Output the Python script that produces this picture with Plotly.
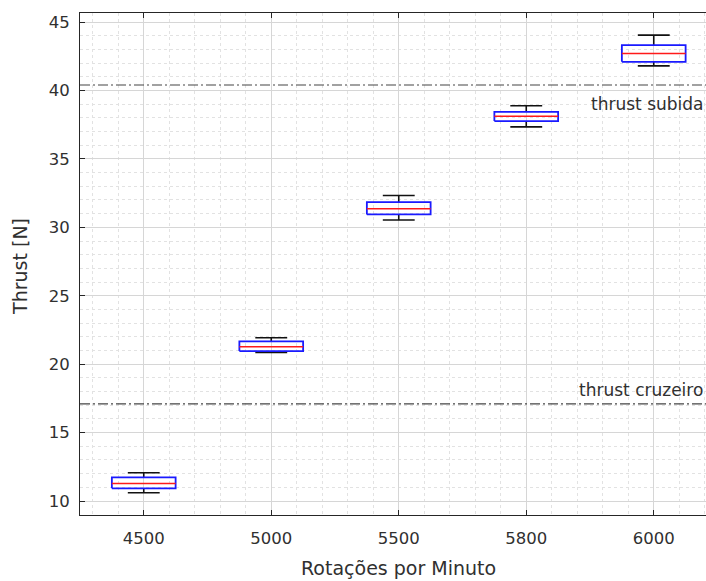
import plotly.graph_objects as go

# Thrust measurements per rotation speed (box-plot statistics, N)
rpm_labels = ["4500", "5000", "5500", "5800", "6000"]
whisker_low = [10.61, 20.86, 30.53, 37.34, 41.80]
quartile_1 = [10.93, 20.96, 30.94, 37.76, 42.09]
medians = [11.29, 21.27, 31.35, 38.12, 42.70]
quartile_3 = [11.73, 21.66, 31.84, 38.44, 43.31]
whisker_high = [12.07, 21.93, 32.33, 38.88, 44.04]

# Reference thrust levels
ref_names = ["thrust subida", "thrust cruzeiro"]
ref_values = [40.4, 17.1]

positions = list(range(1, len(rpm_labels) + 1))
box_half = 0.25
cap_half = 0.125

FONT = "DejaVu Sans"
TEXT = "#303030"

wx, wy = [], []      # whisker stems and caps
bx, by = [], []      # box outlines
mx, my = [], []      # median lines
for p, lo, a, m, b, hi in zip(positions, whisker_low, quartile_1, medians,
                              quartile_3, whisker_high):
    wx += [p, p, None, p, p, None,
           p - cap_half, p + cap_half, None, p - cap_half, p + cap_half, None]
    wy += [b, hi, None, lo, a, None, hi, hi, None, lo, lo, None]
    bx += [p - box_half, p + box_half, p + box_half, p - box_half, p - box_half, None]
    by += [a, a, b, b, a, None]
    mx += [p - box_half, p + box_half, None]
    my += [m, m, None]

fig = go.Figure()
fig.add_trace(go.Scatter(x=wx, y=wy, mode="lines",
                         line=dict(color="#111111", width=1.6),
                         hoverinfo="skip", showlegend=False))
fig.add_trace(go.Scatter(x=bx, y=by, mode="lines",
                         line=dict(color="#1a1aff", width=1.8),
                         hoverinfo="skip", showlegend=False))
fig.add_trace(go.Scatter(x=mx, y=my, mode="lines",
                         line=dict(color="#ff1a1a", width=1.5),
                         hoverinfo="skip", showlegend=False))

# Horizontal reference lines with their labels
label_shift = {"thrust subida": ("top", -7), "thrust cruzeiro": ("bottom", 2)}
for name, val in zip(ref_names, ref_values):
    fig.add_shape(type="line", xref="x domain", x0=0, x1=1.02, yref="y",
                  y0=val, y1=val,
                  line=dict(color="#454545", width=1.2, dash="10px,3px,2px,3px"))
    anchor, shift = label_shift[name]
    fig.add_annotation(text=name, xref="paper", x=0.999, xanchor="right",
                       yref="y", y=val, yanchor=anchor, yshift=shift,
                       showarrow=False, font=dict(family=FONT, size=17, color=TEXT))

# Axis titles
fig.add_annotation(text="Rotações por Minuto", xref="x", x=3, xanchor="center",
                   yref="paper", y=-0.106, yanchor="middle", showarrow=False,
                   font=dict(family=FONT, size=19, color=TEXT))
fig.add_annotation(text="Thrust [N]", xref="paper", x=-0.096, xanchor="center",
                   yref="paper", y=0.496, yanchor="middle", textangle=-90,
                   showarrow=False, font=dict(family=FONT, size=19, color=TEXT))

fig.update_layout(
    width=706, height=581,
    margin=dict(l=80, r=0, t=13, b=66),
    paper_bgcolor="white", plot_bgcolor="white",
    font=dict(family=FONT, color=TEXT),
    xaxis=dict(
        range=[0.5, 0.5 + 626 / 127.5],
        tickmode="array", tickvals=positions, ticktext=rpm_labels,
        ticks="inside", ticklen=5, tickcolor="#262626",
        showline=True, linecolor="#262626", linewidth=1, mirror="ticks",
        showgrid=True, gridcolor="#d6d6d6", gridwidth=1,
        minor=dict(tickmode="linear", tick0=0, dtick=0.2, showgrid=True,
                   gridcolor="#e2e2e2", griddash="dot", ticks=""),
        tickfont=dict(family=FONT, size=16.5, color=TEXT),
        ticklabelstandoff=8, zeroline=False,
    ),
    yaxis=dict(
        range=[8.98, 45.66],
        tickmode="linear", tick0=0, dtick=5,
        ticks="inside", ticklen=5, tickcolor="#262626",
        showline=True, linecolor="#262626", linewidth=1, mirror=False,
        showgrid=True, gridcolor="#d6d6d6", gridwidth=1,
        minor=dict(tickmode="linear", tick0=0, dtick=1, showgrid=True,
                   gridcolor="#e2e2e2", griddash="dot", ticks=""),
        tickfont=dict(family=FONT, size=16.5, color=TEXT),
        ticklabelstandoff=6, zeroline=False,
    ),
)

fig.write_html("out.html")
